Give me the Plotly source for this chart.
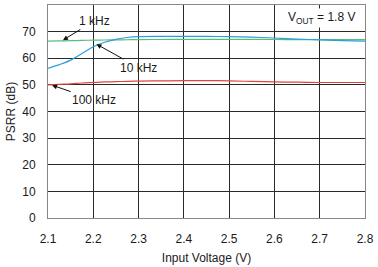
import plotly.graph_objects as go

vin = [2.1, 2.125, 2.15, 2.175, 2.2, 2.225, 2.25, 2.275, 2.3, 2.35, 2.4, 2.45, 2.5, 2.55, 2.6, 2.65, 2.7, 2.75, 2.8]
psrr_1k = [66.4, 66.5, 66.6, 66.7, 66.8, 66.85, 66.9, 66.95, 67.0, 67.05, 67.1, 67.1, 67.1, 67.1, 67.05, 67.0, 67.0, 67.0, 67.0]
psrr_10k = [56.2, 57.6, 59.3, 61.8, 64.3, 66.0, 67.1, 67.8, 68.1, 68.2, 68.2, 68.2, 68.1, 67.9, 67.6, 67.2, 66.9, 66.6, 66.4]
psrr_100k = [50.0, 50.2, 50.4, 50.7, 50.9, 51.1, 51.2, 51.35, 51.4, 51.5, 51.6, 51.6, 51.5, 51.3, 51.1, 51.0, 50.9, 50.9, 50.9]

series = [("1 kHz", psrr_1k, "#5dbb7e"), ("10 kHz", psrr_10k, "#2a9fdc"), ("100 kHz", psrr_100k, "#e0443f")]

fig = go.Figure()
for name, ys, col in series:
    fig.add_trace(go.Scatter(x=vin, y=ys, mode="lines", name=name,
                             line=dict(color=col, width=1.2, shape="spline")))

font = dict(family="Liberation Sans, Arial, sans-serif", size=12, color="#1a1a1a")
grid = "#2a2a2a"
fig.update_layout(
    width=378, height=267, margin=dict(l=48, r=8, t=4, b=45),
    paper_bgcolor="white", plot_bgcolor="white", showlegend=False, font=font,
    xaxis=dict(range=[2.1, 2.8], dtick=0.1, tickformat=".1f", showgrid=True, gridcolor=grid,
               gridwidth=1, zeroline=False, showline=True, linecolor="#888", mirror=True,
               ticks="outside", ticklen=10, tickcolor="rgba(0,0,0,0)",
               ticklabeloverflow="allow",
               title=dict(text="Input Voltage (V)", standoff=8, font=font)),
    yaxis=dict(range=[0, 80], dtick=10, showgrid=True, gridcolor=grid, gridwidth=1,
               zeroline=False, showline=True, linecolor="#888", mirror=True,
               ticks="outside", ticklen=9, tickcolor="rgba(0,0,0,0)",
               title=dict(text="PSRR (dB)", standoff=4, font=font)),
)

arrow = dict(showarrow=True, arrowhead=2, arrowsize=1, arrowwidth=1, arrowcolor="#111",
             axref="x", ayref="y", font=font)
fig.add_annotation(x=2.133, y=66.8, ax=2.202, ay=74.0, text="1 kHz", **arrow)
fig.add_annotation(x=2.207, y=65.3, ax=2.30, ay=56.5, text="10 kHz", **arrow)
fig.add_annotation(x=2.109, y=49.9, ax=2.202, ay=44.4, text="100 kHz", **arrow)
fig.add_annotation(x=2.783, y=75.2, xref="x", yref="y", text="V<sub>OUT</sub> = 1.8 V",
                   showarrow=False, xanchor="right", yanchor="middle", bgcolor="white",
                   font=font)

fig.write_html("out.html")
